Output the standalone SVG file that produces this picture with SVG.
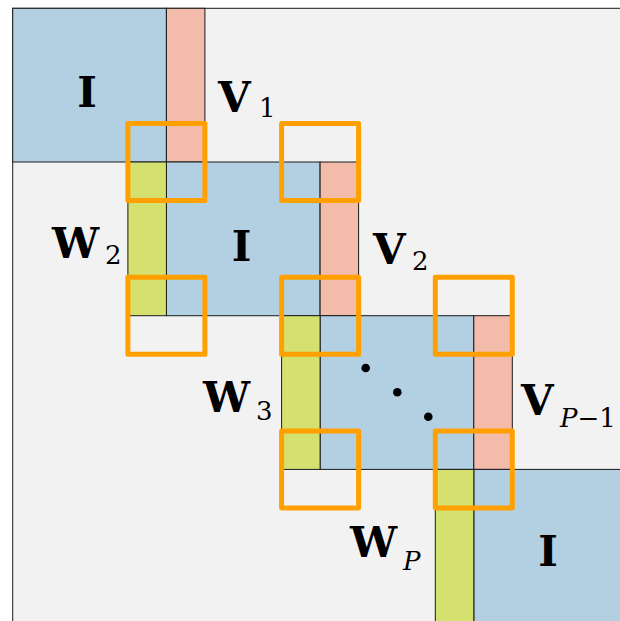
<svg xmlns="http://www.w3.org/2000/svg" width="620" height="621" viewBox="0 0 620 621">
<style>
.bg{fill:#f2f2f2;stroke:#1a1a1a;stroke-width:1}
.blk{fill:#b2d0e2;stroke:#1a1a1a;stroke-width:1}
.v{fill:#f2bbaa;stroke:#1a1a1a;stroke-width:1}
.w{fill:#d4e16f;stroke:#1a1a1a;stroke-width:1}
.sq{fill:none;stroke:#ffa000;stroke-width:5;stroke-linejoin:round}
text{font-family:'DejaVu Serif','Liberation Serif',serif}
.lb{font-weight:bold;font-size:42px;fill:#000}
.sub{font-weight:normal;font-size:26px;fill:#000}
.it{font-style:italic}
</style>
<rect id="matrix" class="bg" x="12.7" y="8.3" width="620" height="620"/>
<g id="block1"><rect class="blk" x="12.7" y="8.3" width="153.7" height="153.7"/><text class="lb" x="87" y="107" text-anchor="middle">I</text></g>
<g id="V1"><rect class="v" x="166.4" y="8.3" width="38.5" height="153.7"/><text x="218" y="112"><tspan class="lb">V</tspan><tspan class="sub" x="259" y="117">1</tspan></text></g>
<g id="block2"><rect class="blk" x="166.4" y="162" width="153.7" height="153.7"/><text class="lb" x="241.5" y="261" text-anchor="middle">I</text></g>
<g id="W2"><rect class="w" x="127.9" y="162" width="38.5" height="153.7"/><text x="52" y="258"><tspan class="lb">W</tspan><tspan class="sub" x="105" y="264">2</tspan></text></g>
<g id="V2"><rect class="v" x="320.1" y="162" width="38.5" height="153.7"/><text x="373" y="264"><tspan class="lb">V</tspan><tspan class="sub" x="412" y="270">2</tspan></text></g>
<g id="block3"><rect class="blk" x="320.1" y="315.7" width="153.7" height="153.7"/>
<circle cx="365.7" cy="368" r="4.3"/><circle cx="397.3" cy="392.3" r="4.3"/><circle cx="428.3" cy="416.7" r="4.3"/></g>
<g id="W3"><rect class="w" x="281.6" y="315.7" width="38.5" height="153.7"/><text x="203" y="412"><tspan class="lb">W</tspan><tspan class="sub" x="256" y="420">3</tspan></text></g>
<g id="VP1"><rect class="v" x="473.8" y="315.7" width="38.5" height="153.7"/><text x="521" y="415"><tspan class="lb">V</tspan><tspan class="sub" x="560" y="427"><tspan class="it">P</tspan>−1</tspan></text></g>
<g id="block4"><rect class="blk" x="473.8" y="469.4" width="160" height="160"/><text class="lb" x="548" y="566" text-anchor="middle">I</text></g>
<g id="WP"><rect class="w" x="435.3" y="469.4" width="38.5" height="160"/><text x="350" y="557"><tspan class="lb">W</tspan><tspan class="sub it" x="403" y="570">P</tspan></text></g>
<g id="squares">
<rect class="sq" x="127.9" y="123.5" width="77" height="77"/>
<rect class="sq" x="281.6" y="123.5" width="77" height="77"/>
<rect class="sq" x="127.9" y="277.2" width="77" height="77"/>
<rect class="sq" x="281.6" y="277.2" width="77" height="77"/>
<rect class="sq" x="435.3" y="277.2" width="77" height="77"/>
<rect class="sq" x="281.6" y="430.9" width="77" height="77"/>
<rect class="sq" x="435.3" y="430.9" width="77" height="77"/>
</g>
</svg>
